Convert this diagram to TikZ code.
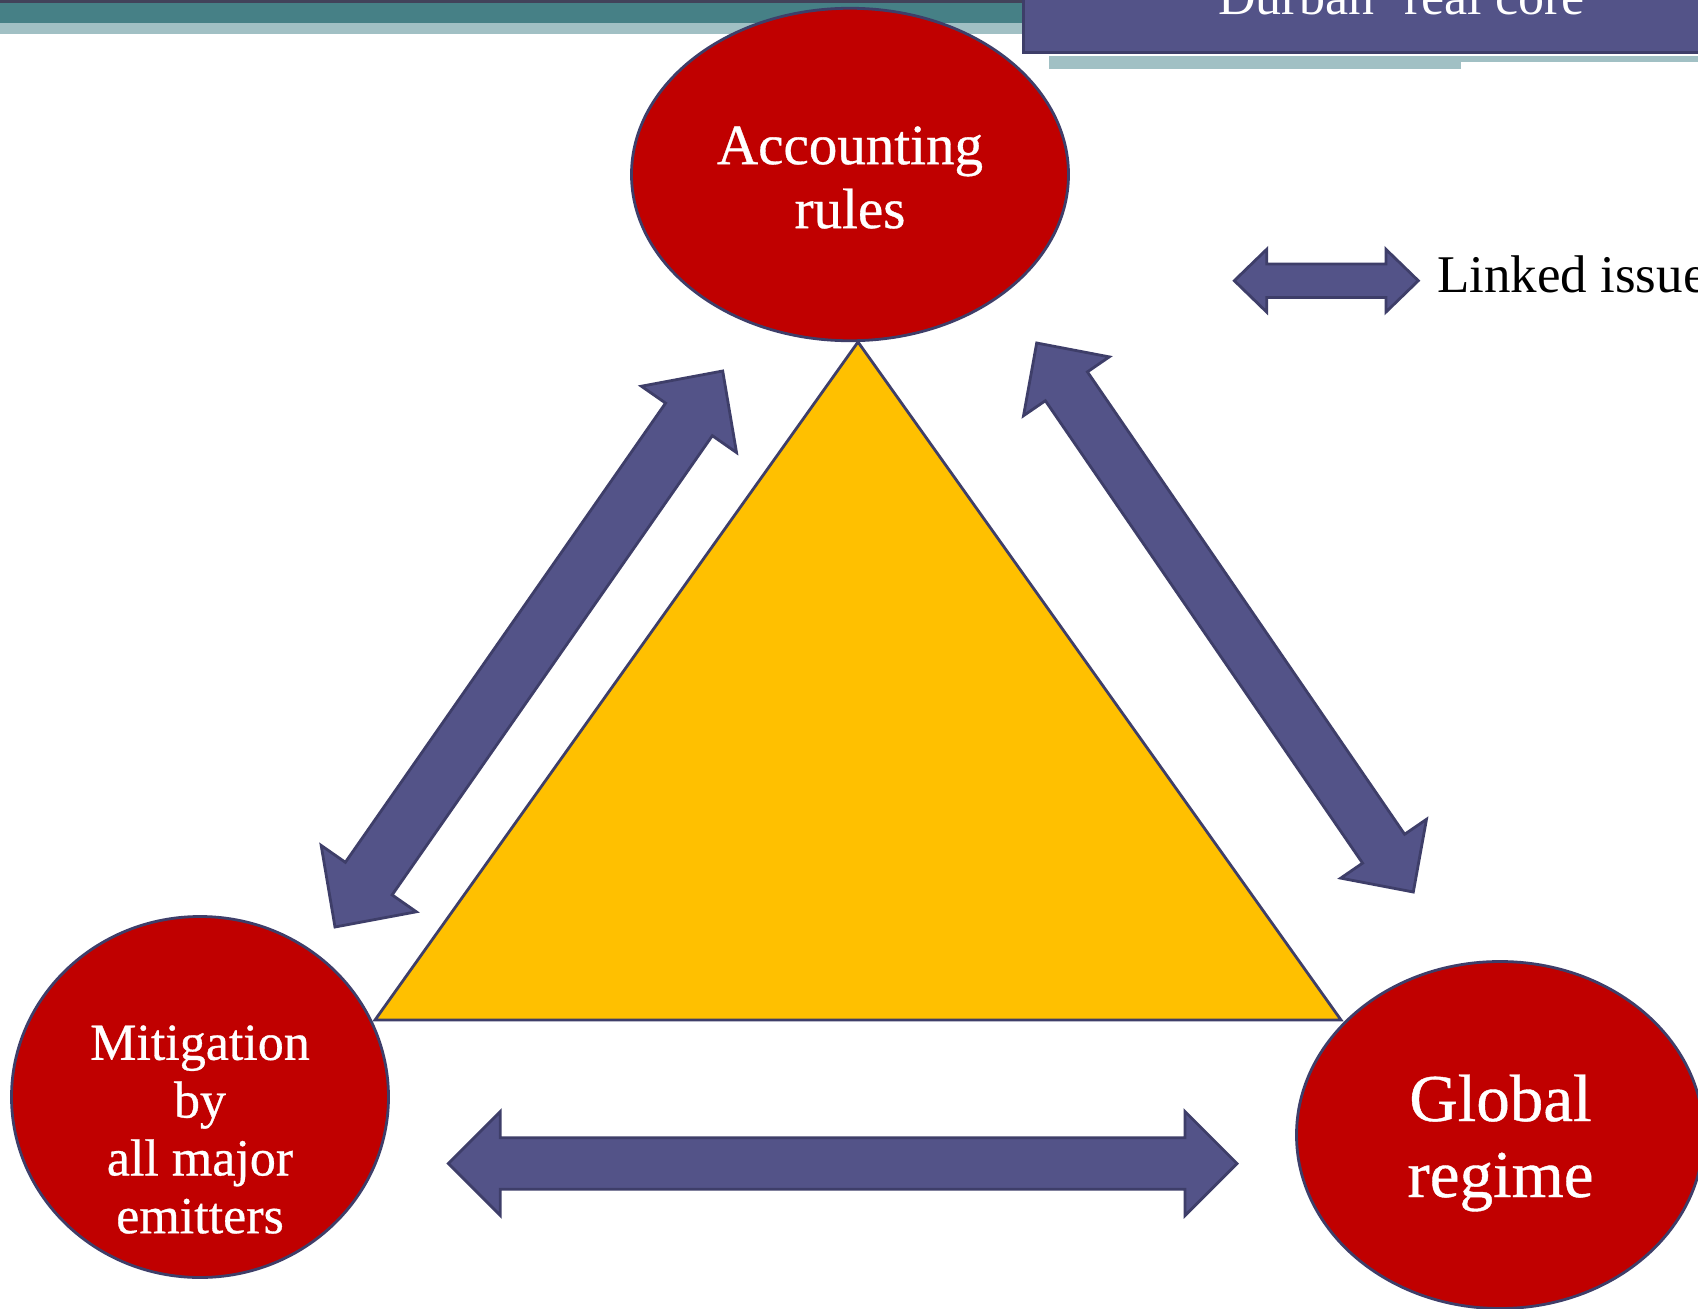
\documentclass[tikz,border=0pt]{standalone}
\usepackage{fontspec}
\setmainfont{Liberation Serif}
\newfontfamily\heavyserif[FakeBold=0.6]{Liberation Serif}
\usetikzlibrary{calc,shapes.geometric}
\definecolor{bubble}{HTML}{C00000}
\definecolor{rim}{HTML}{3E3E69}
\definecolor{arrowfill}{HTML}{535388}
\definecolor{gold}{HTML}{FFC000}
\definecolor{tealA}{HTML}{468086}
\definecolor{tealB}{HTML}{A1C0C4}
\definecolor{topdark}{HTML}{42425A}
\tikzset{
  bubblestyle/.style={ellipse, draw=rim, fill=bubble, line width=2.8pt, inner sep=0pt},
  bubbletext/.style={text=white, align=center, inner sep=0pt},
  linkarrow/.style={draw=rim, fill=arrowfill, line width=2.8pt, line join=miter},
  tri/.style={draw=rim, fill=gold, line width=2.8pt, line join=miter},
}
\newcommand\dblarrow[5]{%
  \coordinate (p1) at ($(#1)!#3!(#2)$);
  \coordinate (p2) at ($(#2)!#3!(#1)$);
  \path[linkarrow] (#1) -- ($(p1)!#4!90:(#2)$) -- ($(p1)!#5!90:(#2)$)
     -- ($(p2)!#5!-90:(#1)$) -- ($(p2)!#4!-90:(#1)$) -- (#2)
     -- ($(p2)!#4!90:(#1)$) -- ($(p2)!#5!90:(#1)$)
     -- ($(p1)!#5!-90:(#2)$) -- ($(p1)!#4!-90:(#2)$) -- cycle;
}
\begin{document}
\begin{tikzpicture}[x=1pt,y=-1pt]
\useasboundingbox (0,0) rectangle (1698,1309);
\fill[white] (0,0) rectangle (1698,1309);
% header bands
\fill[topdark] (0,0) rectangle (1024,3);
\fill[tealA] (0,3) rectangle (1024,23);
\fill[tealB] (0,23) rectangle (1024,34);
% title box
\fill[tealB] (1049,56) rectangle (1698,62);
\fill[tealB] (1049,62) rectangle (1461,69);
\path[fill=arrowfill, draw=rim, line width=3pt] (1023.5,-5) rectangle (1705,52.8);
\node[anchor=base west, text=white, inner sep=0pt, font=\fontsize{52}{60}\selectfont] (title) at (1218,14) {Durban `real core'};
% bubbles
\node[bubblestyle, minimum width=437pt, minimum height=332.5pt] (acc) at (850,174.5) {};
\node[bubblestyle, minimum width=377pt, minimum height=361pt] (mit) at (200,1097) {};
\node[bubblestyle, minimum width=407pt, minimum height=347pt] (glob) at (1500,1135) {};
% triangle
\coordinate (tA) at (858,342);
\coordinate (tB) at (375,1020);
\coordinate (tC) at (1341,1020);
\path[tri] (tA) -- (tB) -- (tC) -- cycle;
% arrows
\coordinate (la1) at (335,927);
\coordinate (la2) at (722.7,371);
\dblarrow{la1}{la2}{59pt}{58pt}{28.5pt}
\coordinate (ra1) at (1036.7,343);
\coordinate (ra2) at (1413.3,892);
\dblarrow{ra1}{ra2}{52.5pt}{52pt}{25.5pt}
\coordinate (ba1) at (448.3,1163.5);
\coordinate (ba2) at (1237,1163.5);
\dblarrow{ba1}{ba2}{52pt}{52pt}{25.7pt}
\coordinate (ga1) at (1234.3,280.7);
\coordinate (ga2) at (1418.3,280.7);
\dblarrow{ga1}{ga2}{32.4pt}{31.4pt}{16.7pt}
% texts
\node[bubbletext, font=\heavyserif\fontsize{57}{64}\selectfont] (acct) at (850,177.5) {Accounting\\rules};
\node[bubbletext, font=\heavyserif\fontsize{52}{57.8}\selectfont] (mitt) at (200,1129.5) {Mitigation\\by\\all major\\emitters};
\node[bubbletext, font=\heavyserif\fontsize{67}{76}\selectfont] (globt) at (1500.5,1143) {Global\\regime};
\node[anchor=base west, inner sep=0pt, font=\fontsize{53}{60}\selectfont] (leg) at (1437,292.3) {Linked issue};
\end{tikzpicture}
\end{document}
